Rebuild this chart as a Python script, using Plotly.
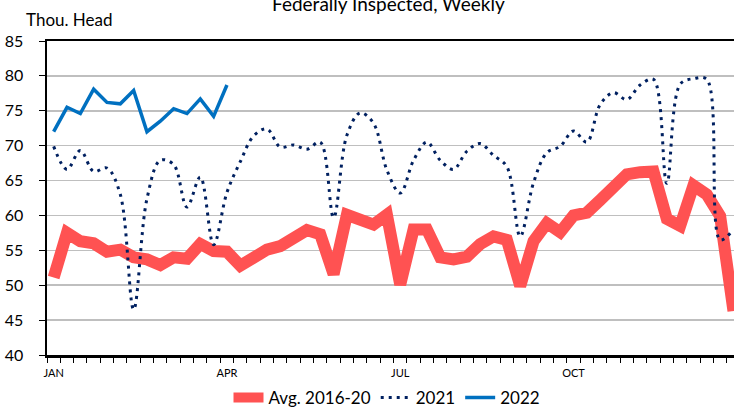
import plotly.graph_objects as go

weeks = list(range(1, 53))

avg_2016_20 = [51.1, 57.5, 56.3, 56.0, 54.8, 55.1, 54.0, 53.7, 52.9, 54.0,
               53.8, 55.9, 54.9, 54.8, 52.8, 54.2, 55.1, 55.6, 57.0, 57.9,
               57.3, 51.6, 60.1, 59.6, 58.7, 60.1, 50.1, 58.0, 58.0, 54.0,
               53.7, 54.1, 55.9, 57.0, 56.5, 49.9, 56.3, 58.9, 57.6, 60.0,
               60.4, 62.2, 64.1, 65.9, 66.2, 66.3, 59.5, 58.5, 64.3, 63.0,
               59.9, 46.3]

y2021 = [69.9, 66.6, 69.3, 66.3, 66.8, 63.0, 46.5, 62.4, 67.9, 67.3,
         61.2, 65.5, 55.8, 63.3, 67.7, 71.4, 72.4, 69.8, 70.1, 69.5,
         70.5, 59.7, 71.5, 74.7, 73.2, 66.5, 63.2, 67.9, 70.5, 67.9,
         66.6, 69.2, 70.3, 68.6, 67.0, 57.0, 64.7, 69.0, 69.9, 72.1,
         70.5, 75.9, 77.6, 76.6, 78.7, 79.5, 64.6, 78.8, 79.6, 79.5,
         56.5, 58.0]

y2022 = [72.0, 75.5, 74.6, 78.1, 76.2, 76.0, 77.9, 72.0, 73.5, 75.3,
         74.6, 76.7, 74.2, 78.7]

month_ticks = [1, 14, 27, 40]
month_labels = ["JAN", "APR", "JUL", "OCT"]

FONT = "Lato"
PLOT_H = 408 - 41 - 53
PLOT_W = 734 - 47

fig = go.Figure()
fig.add_trace(go.Scatter(
    x=weeks, y=avg_2016_20, name="Avg. 2016-20", mode="lines",
    line=dict(color="#FF5252", width=12),
))
fig.add_trace(go.Scatter(
    x=weeks, y=y2021, name="2021", mode="lines",
    line=dict(color="#002060", width=3, dash="3px,5px", shape="spline", smoothing=1),
))
fig.add_trace(go.Scatter(
    x=weeks[:len(y2022)], y=y2022, name="2022", mode="lines",
    line=dict(color="#0070C0", width=3.5),
))

fig.update_layout(
    width=734, height=408,
    margin=dict(l=47, r=0, t=41, b=53, autoexpand=False),
    paper_bgcolor="white", plot_bgcolor="white",
    font=dict(family=FONT, color="#000000"),
    showlegend=True,
    hovermode=False,
    legend=dict(orientation="h", x=(387 - 47) / PLOT_W, xanchor="center",
                y=-43 / PLOT_H, yanchor="middle",
                font=dict(size=17, family=FONT), itemwidth=30,
                bgcolor="rgba(0,0,0,0)"),
    annotations=[
        dict(text="Federally Inspected, Weekly", xref="paper", yref="paper",
             x=(388 - 47) / PLOT_W, y=1 + 38 / PLOT_H, xanchor="center", yanchor="middle",
             showarrow=False, font=dict(size=19, family=FONT)),
        dict(text="Thou. Head", xref="paper", yref="paper",
             x=(24 - 47) / PLOT_W, y=1 + 22 / PLOT_H, xanchor="left", yanchor="middle",
             showarrow=False, font=dict(size=17, family=FONT)),
    ],
)

fig.update_xaxes(
    range=[0.5, 52.04], automargin=False,
    tickmode="array", tickvals=month_ticks, ticktext=month_labels,
    ticks="", tickfont=dict(size=11, family=FONT),
    ticklabelstandoff=6,
    showgrid=False, zeroline=False,
    showline=True, linecolor="black", linewidth=2.5, mirror=True,
    minor=dict(tickmode="linear", tick0=0.5, dtick=1, ticks="outside",
               ticklen=5, tickwidth=1, tickcolor="black", showgrid=False),
)
fig.update_yaxes(
    range=[40, 85], tickmode="linear", tick0=40, dtick=5, automargin=False,
    ticks="outside", ticklen=6, tickwidth=1, tickcolor="black",
    tickfont=dict(size=16, family=FONT),
    ticklabelstandoff=12,
    showgrid=True, gridcolor="#BFBFBF", gridwidth=1.5,
    zeroline=False,
    showline=True, linecolor="black", linewidth=2.5,
)

fig.write_html("out.html",
               config={"displayModeBar": False, "staticPlot": True},
               post_script="document.body.style.margin='0';document.body.style.overflow='hidden';")
